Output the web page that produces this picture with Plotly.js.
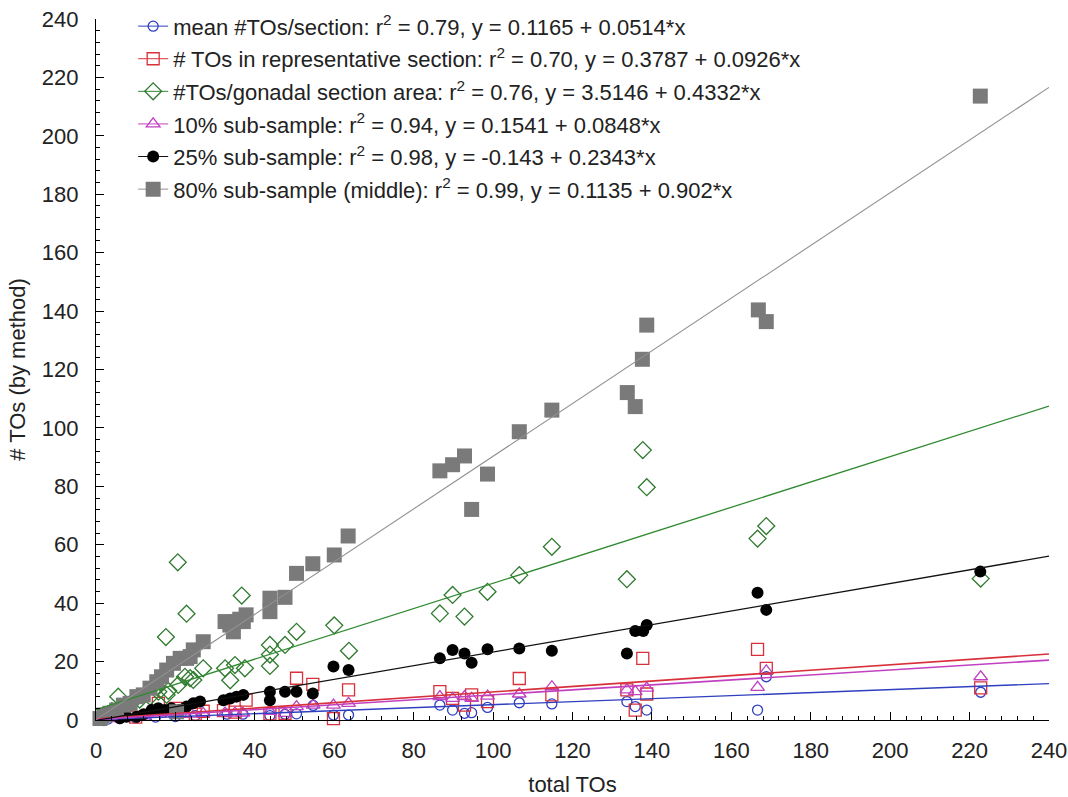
<!DOCTYPE html>
<html>
<head>
<meta charset="utf-8">
<script src="https://cdn.plot.ly/plotly-3.0.1.min.js"></script>
<style>html,body{margin:0;padding:0;background:#fff;}#chart{width:1068px;height:797px;}</style>
</head>
<body>
<div id="chart"></div>
<script>
// ---- Data ----
var legendLabels = [
  "mean #TOs/section: r<sup>2</sup> = 0.79, y = 0.1165 + 0.0514*x",
  "# TOs in representative section: r<sup>2</sup> = 0.70, y = 0.3787 + 0.0926*x",
  "#TOs/gonadal section area: r<sup>2</sup> = 0.76, y = 3.5146 + 0.4332*x",
  "10% sub-sample: r<sup>2</sup> = 0.94, y = 0.1541 + 0.0848*x",
  "25% sub-sample: r<sup>2</sup> = 0.98, y = -0.143 + 0.2343*x",
  "80% sub-sample (middle): r<sup>2</sup> = 0.99, y = 0.1135 + 0.902*x"
];
var fitIntercepts = [0.1165, 0.3787, 3.5146, 0.1541, -0.143, 0.1135];
var fitSlopes     = [0.0514, 0.0926, 0.4332, 0.0848, 0.2343, 0.902];
var fitRange = [0, 240];

// mean #TOs/section
var meanX = [3,6,10,15,20,25,33,37,43.8,47.6,50.5,54.7,59.8,63.6,86.6,89.8,92.8,94.6,98.6,106.6,114.8,133.7,135.8,138.7,166.6,168.8,222.8];
var meanY = [0.3,0.5,0.7,1,1.2,1.5,2,2,1.5,2,2.1,5,1.7,1.7,5.1,3.4,2.3,2.5,4.3,5.9,5.5,6.3,4.6,3.4,3.4,14.8,9.5];

// # TOs in representative section
var reprX = [10,15.7,20,22,25,27,32.1,35,37.8,43.8,47.6,50.5,54.6,59.8,63.6,86.6,89.8,92.8,94.6,98.6,106.6,114.8,133.7,135.8,137.7,138.7,166.6,168.8,222.8];
var reprY = [1,5.7,4,3,2,3,3.2,2.7,6.8,2.1,2.3,14.3,12.2,0.5,10.3,9.7,7.4,5.1,8.6,6.3,14.2,8.6,10.3,3.4,21.1,8.9,24.2,17.7,11];

// #TOs/gonadal section area
var areaX = [2,3,4,5.6,7,9,11,13.6,15.3,15.7,17.6,17.8,18.2,20.6,20.7,22.4,22.8,23.7,24.5,27,32.5,33.8,35,36.7,37.5,43.8,43.8,43.8,47.6,50.5,60,63.7,86.6,89.8,92.8,98.6,106.6,114.8,133.7,137.7,138.7,166.6,168.8,222.8];
var areaY = [1,2,3,8,4,6,7,8,11.4,9.7,28.4,8.6,10,54,12,14.8,36.4,14.3,13.7,17.7,17.7,13.6,18.8,42.6,17.7,25.7,22.4,18.5,25.7,30.2,32.4,23.7,36.5,42.8,35.4,43.9,49.6,59.3,48.2,92.4,79.7,62.1,66.4,48.4];

// 10% sub-sample
var s10X = [5,8,12,16,20,24,27,32.5,35,37,43.8,47.6,50.5,54.7,59.8,63.6,86.6,89.8,92.8,94.6,98.6,106.6,114.8,133.7,135.8,138.7,166.6,168.8,222.8];
var s10Y = [0.5,1,1,2,2,2,2.3,2.4,2.4,2.4,3,2.3,4.6,5.1,5.1,5.7,8,7.4,8,7.4,8.2,8.9,11.4,10.3,9.7,10.9,11.2,16.8,14.8];

// 25% sub-sample
var s25X = [6,7.7,10.2,12,14,15.7,17.4,19,21,22.8,24.5,26.2,32.1,33.8,35.4,37.1,43.8,43.8,47.6,50.5,54.6,59.8,63.6,86.6,89.8,92.8,94.6,98.6,106.6,114.8,133.7,135.8,137.8,138.7,166.6,168.8,222.7];
var s25Y = [0.6,1.1,1.1,2,3.4,4,3.4,4,3.4,4.6,5.7,6.3,6.8,7.4,8,8.6,9.7,6.8,9.7,9.7,9.1,18.3,17.1,21.1,24,22.8,19.6,24.2,24.5,23.7,22.8,30.5,30.5,32.5,43.6,37.7,50.8];

// 80% sub-sample (middle)
var s80X = [1,2,3.5,5.2,6.9,8.6,10.3,11.9,13.6,15.3,16.5,17.8,19.5,20.3,21.2,22.8,23.7,24.5,27,32.5,33.7,34.6,35.4,36.2,37.1,37.8,43.8,43.8,47.6,50.5,54.6,60,63.5,86.6,89.8,92.8,94.6,98.6,106.6,114.8,133.8,135.8,137.6,138.7,166.8,168.8,222.7];
var s80Y = [0.5,1.7,2.3,3.4,5.1,5.7,8,8.6,10.9,13.1,14.8,17.1,19.4,2.8,21.1,21.1,21.7,24,26.8,33.7,32.5,30.2,33.7,34.5,33.7,36,41.7,37.1,42,50.2,53.5,56.5,63,85.3,87.4,90.4,72.1,84.2,98.7,106.1,112.1,107.3,123.5,135.2,140.4,136.4,213.6];

// ---- Styles ----
var seriesX = [meanX, reprX, areaX, s10X, s25X, s80X];
var seriesY = [meanY, reprY, areaY, s10Y, s25Y, s80Y];
var markerStyles = [
  {symbol:'circle-open', size:10, color:'#2f3fbf', line:{width:1.3}},
  {symbol:'square-open', size:12, color:'#d8303a', line:{width:1.3}},
  {symbol:'diamond-open', size:13, color:'#2f7a2f', line:{width:1.3}},
  {symbol:'triangle-up-open', size:12, color:'#c040c0', line:{width:1.3}},
  {symbol:'circle', size:12, color:'#000000', line:{width:0}},
  {symbol:'square', size:15, color:'#7a7a7a', line:{width:0}}
];
var lineStyles = [
  {color:'#2f3fbf', width:1.4},
  {color:'#d8303a', width:1.6},
  {color:'#2f8a2f', width:1.3},
  {color:'#c040c0', width:1.6},
  {color:'#111111', width:1.3},
  {color:'#909090', width:1.1}
];

var traces = [];
for (var i = 0; i < 6; i++) {
  traces.push({type:'scatter', mode:'markers', x:seriesX[i], y:seriesY[i],
    marker:markerStyles[i], showlegend:false, hoverinfo:'x+y', cliponaxis:false});
}
for (var i = 0; i < 6; i++) {
  traces.push({type:'scatter', mode:'lines', x:fitRange,
    y:fitRange.map(function(v){return fitIntercepts[i] + fitSlopes[i]*v;}),
    line:lineStyles[i], showlegend:false, hoverinfo:'skip'});
}
for (var i = 0; i < 6; i++) {
  traces.push({type:'scatter', mode:'lines+markers', x:[null], y:[null],
    name:legendLabels[i], marker:markerStyles[i], line:{color:lineStyles[i].color, width:1},
    legendgroup:'g'+i, showlegend:true});
}

var FS = 22;
var font = {family:'Arial, "Liberation Sans", sans-serif', size:FS, color:'#222'};
var layout = {
  width:1068, height:797,
  margin:{l:96, r:19, t:19, b:77, autoexpand:false},
  paper_bgcolor:'#fff', plot_bgcolor:'#fff',
  font:font,
  showlegend:true,
  legend:{x:0.039, y:1.0195, xanchor:'left', yanchor:'top', bgcolor:'rgba(255,255,255,0)',
    font:{family:font.family, size:FS, color:'#222'}, tracegroupgap:1, traceorder:'grouped',
    itemwidth:30},
  xaxis:{range:[0,240], dtick:20, tick0:0, showgrid:false, zeroline:false, automargin:false,
    showline:true, linecolor:'#000', linewidth:1.2, ticks:'inside', ticklen:8, tickcolor:'#000',
    minor:{ticks:'inside', dtick:4, ticklen:4, tickcolor:'#000', showgrid:false},
    ticklabelstandoff:10, tickfont:{size:FS, color:'#222'},
    title:{text:'total TOs', font:{size:FS, color:'#222'}, standoff:16}},
  yaxis:{range:[0,240], dtick:20, tick0:0, showgrid:false, zeroline:false, automargin:false,
    showline:true, linecolor:'#000', linewidth:1.2, ticks:'inside', ticklen:8, tickcolor:'#000',
    minor:{ticks:'inside', dtick:4, ticklen:4, tickcolor:'#000', showgrid:false},
    ticklabelstandoff:12, tickfont:{size:FS, color:'#222'},
    title:{text:'# TOs (by method)', font:{size:FS, color:'#222'}, standoff:10}}
};
Plotly.newPlot('chart', traces, layout, {displayModeBar:false, staticPlot:true});
</script>
</body>
</html>
